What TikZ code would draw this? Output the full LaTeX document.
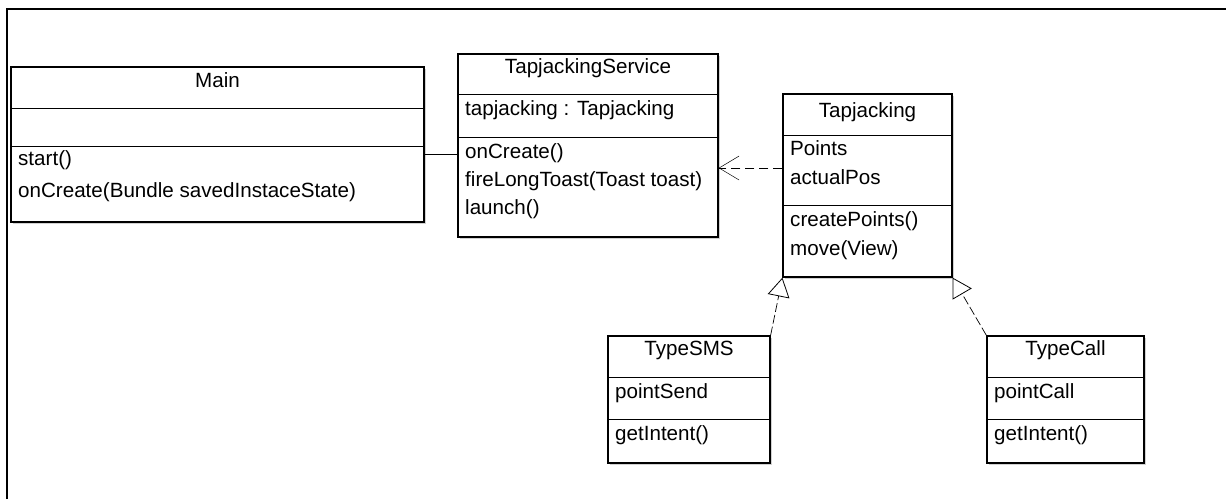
\documentclass[tikz,border=0pt]{standalone}
\usepackage{fontspec}
\setmainfont{Liberation Sans}
\usetikzlibrary{arrows.meta,shadows}
\begin{document}
\begin{tikzpicture}[x=1pt,y=-1pt,
  cls/.style={draw=black, line width=1.2pt, fill=white, rectangle, inner sep=0pt,
    drop shadow={shadow xshift=1.8pt, shadow yshift=-1.8pt, fill=black!30, opacity=0.6}},
  sep/.style={draw=black, line width=1pt},
  txt/.style={anchor=mid west, inner sep=0pt, font=\fontsize{20.6}{24}\selectfont},
  ttl/.style={anchor=mid, inner sep=0pt, font=\fontsize{20.6}{24}\selectfont},
  assoc/.style={draw=black, line width=0.9pt},
  dep/.style={draw=black, line width=0.8pt, dash pattern=on 9pt off 5pt,
    -{Straight Barb[length=20pt, width=24pt, line width=0.5pt]}},
  real/.style={draw=black, line width=0.7pt, dash pattern=on 9pt off 3pt,
    -{Triangle[open, length=19pt, width=22pt, line width=0.8pt]}}
]
\useasboundingbox (0,0) rectangle (1226,499);
% frame
\draw[line width=1.4pt] (7,499) -- (7,9) -- (1226,9);

% Main
\node[cls, minimum width=413pt, minimum height=155pt] (main) at (217.5,144.5) {};
\draw[sep] (main.west |- 0,108) -- (main.east |- 0,108);
\draw[sep] (main.west |- 0,146) -- (main.east |- 0,146);
\node[ttl] (mainT) at (217.5,85) {Main};
\node[txt] (mainO1) at (18,163) {start()};
\node[txt] (mainO2) at (18,195) {onCreate(Bundle savedInstaceState)};

% TapjackingService
\node[cls, minimum width=260pt, minimum height=183pt] (svc) at (588,145.5) {};
\draw[sep] (svc.west |- 0,94) -- (svc.east |- 0,94);
\draw[sep] (svc.west |- 0,137) -- (svc.east |- 0,137);
\node[ttl] (svcT) at (588,71) {TapjackingService};
\node[txt] (svcA1) at (465,113) {tapjacking : Tapjacking};
\node[txt] (svcO1) at (465,156) {onCreate()};
\node[txt] (svcO2) at (465,184) {fireLongToast(Toast toast)};
\node[txt] (svcO3) at (465,212) {launch()};

% Tapjacking
\node[cls, minimum width=169pt, minimum height=183pt] (tap) at (867.5,185.5) {};
\draw[sep] (tap.west |- 0,135) -- (tap.east |- 0,135);
\draw[sep] (tap.west |- 0,205) -- (tap.east |- 0,205);
\node[ttl] (tapT) at (867.5,115) {Tapjacking};
\node[txt] (tapA1) at (790,153) {Points};
\node[txt] (tapA2) at (790,182) {actualPos};
\node[txt] (tapO1) at (790,224) {createPoints()};
\node[txt] (tapO2) at (790,253) {move(View)};

% TypeSMS
\node[cls, minimum width=162pt, minimum height=127pt] (sms) at (689,399.5) {};
\draw[sep] (sms.west |- 0,377) -- (sms.east |- 0,377);
\draw[sep] (sms.west |- 0,419) -- (sms.east |- 0,419);
\node[ttl] (smsT) at (689,353) {TypeSMS};
\node[txt] (smsA1) at (615,396) {pointSend};
\node[txt] (smsO1) at (615,438) {getIntent()};

% TypeCall
\node[cls, minimum width=157pt, minimum height=127pt] (call) at (1065.5,399.5) {};
\draw[sep] (call.west |- 0,377) -- (call.east |- 0,377);
\draw[sep] (call.west |- 0,419) -- (call.east |- 0,419);
\node[ttl] (callT) at (1065.5,353) {TypeCall};
\node[txt] (callA1) at (994,396) {pointCall};
\node[txt] (callO1) at (994,438) {getIntent()};

% connectors
\draw[assoc] (main.east |- 0,154) -- (svc.west |- 0,154);
\draw[dep] (tap.west |- 0,168) -- (svc.east |- 0,168);
\draw[real] (sms.north east) -- (tap.south west);
\draw[real] (call.north west) -- (tap.south east);
\end{tikzpicture}
\end{document}
